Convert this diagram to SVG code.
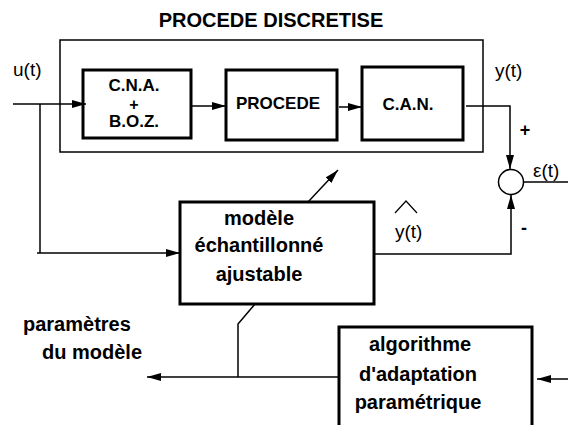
<svg xmlns="http://www.w3.org/2000/svg" width="568" height="425" viewBox="0 0 568 425">
<defs>
<style>
.b{font-family:"Liberation Sans",Arial,sans-serif;font-weight:bold;fill:#000}
.r{font-family:"Liberation Sans",Arial,sans-serif;fill:#000}
.box{fill:#fff;stroke:#000;stroke-width:3}
.ln{fill:none;stroke:#000;stroke-width:1.5}
</style>
<marker id="ahl" viewBox="0 0 14 10" refX="14" refY="5" markerWidth="14" markerHeight="10" markerUnits="userSpaceOnUse" orient="auto">
<path d="M0,1 L14,5 L0,9 Z" fill="#000"/>
</marker>
</defs>
<rect width="568" height="425" fill="#fff"/>

<g id="procede-discretise">
<rect x="60" y="40" width="423" height="112" class="ln"/>
<text x="271" y="27" class="b" font-size="20" text-anchor="middle">PROCEDE DISCRETISE</text>
</g>

<g id="cna">
<rect x="83" y="70" width="108" height="68" class="box"/>
<text x="134" y="91" class="b" font-size="17" text-anchor="middle">C.N.A.</text>
<text x="134" y="110" class="b" font-size="16" text-anchor="middle">+</text>
<text x="134" y="127" class="b" font-size="17" text-anchor="middle">B.O.Z.</text>
</g>

<g id="procede">
<rect x="226" y="70" width="111" height="70" class="box"/>
<text x="278" y="109" class="b" font-size="17" text-anchor="middle">PROCEDE</text>
</g>

<g id="can">
<rect x="362" y="67" width="101" height="73" class="box"/>
<text x="408" y="110" class="b" font-size="17" text-anchor="middle">C.A.N.</text>
</g>

<g id="comparateur">
<circle cx="511" cy="182" r="12.5" fill="#fff" stroke="#000" stroke-width="1.5"/>
</g>

<g id="modele">
<rect x="180" y="202" width="194" height="102" class="box"/>
<text x="259" y="225" class="b" font-size="20" text-anchor="middle">modèle</text>
<text x="259" y="252" class="b" font-size="20" text-anchor="middle">échantillonné</text>
<text x="259" y="281" class="b" font-size="20" text-anchor="middle">ajustable</text>
</g>

<g id="algorithme">
<rect x="339" y="327" width="193" height="110" class="box"/>
<text x="420" y="351" class="b" font-size="20" text-anchor="middle">algorithme</text>
<text x="418" y="381" class="b" font-size="20" text-anchor="middle">d'adaptation</text>
<text x="418" y="409" class="b" font-size="20" text-anchor="middle">paramétrique</text>
</g>

<g id="connectors">
<line x1="13" y1="104" x2="86" y2="104" class="ln" marker-end="url(#ahl)"/>
<polyline points="40,104 40,253" class="ln"/>
<line x1="37" y1="253" x2="180" y2="253" class="ln" marker-end="url(#ahl)"/>
<line x1="192" y1="106" x2="226" y2="106" class="ln" marker-end="url(#ahl)"/>
<line x1="339" y1="107" x2="362" y2="107" class="ln" marker-end="url(#ahl)"/>
<polyline points="466,106 510,106 510,169" class="ln" marker-end="url(#ahl)"/>
<line x1="524" y1="182" x2="568" y2="182" class="ln"/>
<polyline points="374,254 511,254 511,195" class="ln" marker-end="url(#ahl)"/>
<line x1="308" y1="202" x2="338" y2="170" class="ln" marker-end="url(#ahl)"/>
<polyline points="255,304 238,324 238,377" class="ln"/>
<line x1="339" y1="377" x2="147" y2="377" class="ln" marker-end="url(#ahl)"/>
<line x1="568" y1="379" x2="537" y2="379" class="ln" marker-end="url(#ahl)"/>
</g>

<g id="labels">
<text x="13" y="76" class="r" font-size="19">u(t)</text>
<text x="495" y="77" class="r" font-size="19">y(t)</text>
<text x="525" y="136" class="b" font-size="18" text-anchor="middle">+</text>
<text x="533" y="177" class="r" font-size="19">ε(t)</text>
<text x="524" y="234" class="b" font-size="18" text-anchor="middle">-</text>
<text x="395" y="238" class="r" font-size="19">y(t)</text>
<polyline points="395,213 406,201 417,213" fill="none" stroke="#000" stroke-width="1.2"/>
<text x="23" y="331" class="b" font-size="20">paramètres</text>
<text x="42" y="359" class="b" font-size="20">du modèle</text>
</g>
</svg>
